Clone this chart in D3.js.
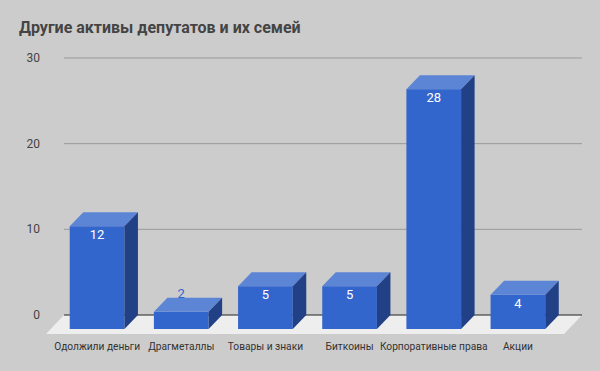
<!DOCTYPE html>
<html><head><meta charset="utf-8">
<script src="https://cdn.jsdelivr.net/npm/d3@7"></script>
<style>body{margin:0;background:#cccccc;}svg{display:block;font-family:Roboto,Arial,sans-serif;}</style>
</head><body>
<svg id="c" width="600" height="371"></svg>
<script>
const title = "Другие активы депутатов и их семей";
const categories = ["Одолжили деньги","Драгметаллы","Товары и знаки","Биткоины","Корпоративные права","Акции"];
const values = [12, 2, 5, 5, 28, 4];
const yTicks = [0, 10, 20, 30];

const svg = d3.select("#c");
svg.append("rect").attr("width",600).attr("height",371).attr("fill","#cccccc");

const backX0 = 64, backX1 = 582;
const y = d3.scaleLinear().domain([0,30]).range([315,58]);
const x = d3.scaleBand().domain(categories).range([55,560]).paddingInner(0.35).paddingOuter(0.175);
const bw = x.bandwidth();
const depX = 13.5, depY = 14;      // bar depth offset (front -> back)
const flX = 18, flY = 19;          // floor depth

svg.append("text").attr("x",19).attr("y",33).attr("font-size",16).attr("font-weight","bold")
  .attr("fill","#444444").text(title);

// gridlines
svg.selectAll(".grid").data(yTicks.filter(t=>t>0)).join("line")
  .attr("x1",backX0).attr("x2",backX1).attr("y1",d=>y(d)).attr("y2",d=>y(d))
  .attr("stroke","#999999").attr("stroke-width",1);

// tick labels
svg.selectAll(".tick").data(yTicks).join("text")
  .attr("x",40).attr("y",d=>y(d)+4).attr("text-anchor","end")
  .attr("font-size",12).attr("fill","#444444").text(d=>d);

// floor
const y0 = y(0);
svg.append("polygon")
  .attr("points",[[backX0,y0],[backX1,y0],[backX1-flX,y0+flY],[backX0-flX,y0+flY]].map(p=>p.join(",")).join(" "))
  .attr("fill","#eeeeee");
svg.append("line").attr("x1",backX0).attr("x2",backX1).attr("y1",y0).attr("y2",y0)
  .attr("stroke","#222222").attr("stroke-width",1.2);

// bars
const g = svg.selectAll(".bar").data(categories.map((c,i)=>({c,v:values[i]}))).join("g");
g.each(function(d){
  const sel = d3.select(this);
  const fx = x(d.c), fyTop = y(d.v)+depY, fyBot = y0+depY;
  sel.append("rect").attr("x",fx).attr("y",fyTop).attr("width",bw).attr("height",fyBot-fyTop).attr("fill","#3366cc");
  sel.append("polygon").attr("points",[[fx,fyTop],[fx+bw,fyTop],[fx+bw+depX,fyTop-depY],[fx+depX,fyTop-depY]].map(p=>p.join(",")).join(" "))
    .attr("fill","#5c85d6");
  sel.append("polygon").attr("points",[[fx+bw,fyTop],[fx+bw+depX,fyTop-depY],[fx+bw+depX,fyBot-depY],[fx+bw,fyBot]].map(p=>p.join(",")).join(" "))
    .attr("fill","#214085");
  const inside = (fyBot-fyTop) > 25;
  sel.append("text").attr("x",fx+bw/2).attr("y", inside ? fyTop+13 : fyTop-14)
    .attr("text-anchor","middle").attr("font-size",13)
    .attr("fill", inside ? "#ffffff" : "#3366cc").text(d.v);
});

// category labels
svg.selectAll(".cat").data(categories).join("text")
  .attr("x",d=>x(d)+bw/2).attr("y",349.5).attr("text-anchor","middle")
  .attr("font-size",10.2).attr("fill","#333333").text(d=>d);
</script>
</body></html>
